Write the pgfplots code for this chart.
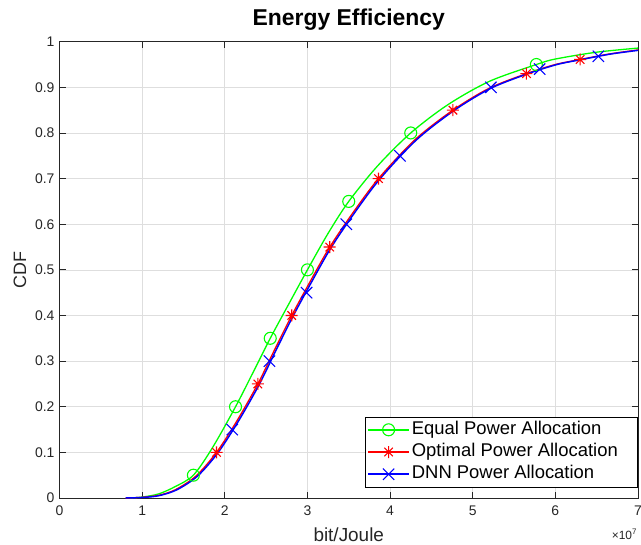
\documentclass[border=0pt]{standalone}
\usepackage{fontspec}
\setmainfont{Liberation Sans}
\usepackage{pgfplots}
\pgfplotsset{compat=1.18}
\usetikzlibrary{plotmarks}
\definecolor{axgray}{gray}{0.15}
\definecolor{gridgray}{gray}{0.87}
\pgfdeclareplotmark{mstar}{%
  \pgfpathmoveto{\pgfqpoint{-\pgfplotmarksize}{0pt}}\pgfpathlineto{\pgfqpoint{\pgfplotmarksize}{0pt}}%
  \pgfpathmoveto{\pgfqpoint{0pt}{-\pgfplotmarksize}}\pgfpathlineto{\pgfqpoint{0pt}{\pgfplotmarksize}}%
  \pgfpathmoveto{\pgfqpoint{-0.7071\pgfplotmarksize}{-0.7071\pgfplotmarksize}}\pgfpathlineto{\pgfqpoint{0.7071\pgfplotmarksize}{0.7071\pgfplotmarksize}}%
  \pgfpathmoveto{\pgfqpoint{-0.7071\pgfplotmarksize}{0.7071\pgfplotmarksize}}\pgfpathlineto{\pgfqpoint{0.7071\pgfplotmarksize}{-0.7071\pgfplotmarksize}}%
  \pgfusepathqstroke}
\begin{document}
\begin{tikzpicture}
\begin{axis}[
  name=ax,
  scale only axis,
  width=578.5bp, height=456.3bp,
  xmin=0, xmax=7, ymin=0, ymax=1,
  xtick={0,1,2,3,4,5,6,7},
  ytick={0,0.1,0.2,0.3,0.4,0.5,0.6,0.7,0.8,0.9,1},
  yticklabels={0,0.1,0.2,0.3,0.4,0.5,0.6,0.7,0.8,0.9,1},
  xticklabels={0,1,2,3,4,5,6,7},
  grid=major,
  major grid style={gridgray, line width=0.6bp},
  axis line style={axgray, line width=0.8bp},
  tick style={axgray, line width=0.8bp},
  tick align=inside,
  major tick length=6bp,
  tick label style={font=\fontsize{14}{16}\selectfont, text=axgray},
  xticklabel style={yshift=-4.5bp},
  yticklabel style={xshift=-1.5bp},
  title={Energy Efficiency},
  title style={font=\fontsize{23}{26}\selectfont\bfseries, at={(rel axis cs:0.5,1)}, anchor=base, yshift=10bp},
  xlabel={bit/Joule},
  xlabel style={font=\fontsize{19}{22}\selectfont, text=axgray, at={(rel axis cs:0.5,0)}, anchor=base, yshift=-43bp},
  ylabel={CDF},
  ylabel style={font=\fontsize{18}{21}\selectfont, text=axgray, at={(axis description cs:-0.0683,0.5)}, anchor=center},
  legend style={at={(rel axis cs:1,0)}, anchor=south east, xshift=-1bp, yshift=11bp,
    font=\fontsize{18.5}{21}\selectfont, draw=black, fill=white,
    inner xsep=2bp, inner ysep=1.5bp, row sep=0pt,
    nodes={text height=13bp, text depth=4bp, inner ysep=2.6bp, inner xsep=2bp}},
  legend cell align=left,
  legend image code/.code={%
    \draw[line width=1.6bp] (0bp,0bp) -- (41bp,0bp);
    \draw[only marks] plot coordinates {(20.5bp,0bp)};},
]
% line series
\addplot[green, line width=1.3bp, smooth, tension=0.5, forget plot] coordinates {
(0.85,0) (1.0,0.002) (1.2,0.009) (1.4,0.025) (1.62,0.05) (1.85,0.11) (2.13,0.2) (2.35,0.278)
(2.55,0.35) (2.78,0.427) (3.0,0.5) (3.25,0.58) (3.5,0.65) (3.85,0.728) (4.25,0.8) (4.7,0.862)
(5.2,0.913) (5.77,0.95) (6.0,0.962) (6.5,0.977) (7,0.986)};
\addplot[red, line width=1.3bp, smooth, tension=0.5, forget plot] coordinates {
(0.8,0) (1.0,0.0015) (1.2,0.006) (1.4,0.018) (1.65,0.048) (1.9,0.1) (2.15,0.17) (2.4,0.25)
(2.6,0.324) (2.81,0.4) (3.05,0.48) (3.27,0.55) (3.55,0.625) (3.86,0.7) (4.3,0.785) (4.76,0.85)
(5.2,0.898) (5.65,0.93) (6.0,0.95) (6.3,0.961) (6.65,0.973) (7,0.982)};
\addplot[blue, line width=1.5bp, smooth, tension=0.5, forget plot] coordinates {
(0.8,0) (1.0,0.0012) (1.2,0.005) (1.42,0.018) (1.67,0.048) (1.92,0.1) (2.17,0.17) (2.42,0.25)
(2.62,0.324) (2.83,0.4) (3.07,0.48) (3.29,0.55) (3.57,0.625) (3.88,0.7) (4.32,0.785) (4.78,0.85)
(5.22,0.898) (5.67,0.93) (6.02,0.95) (6.32,0.961) (6.67,0.973) (7,0.981)};
% marker series
\addplot[green, only marks, mark=o, mark size=6bp, line width=1.1bp, forget plot] coordinates {
(1.62,0.05) (2.13,0.2) (2.55,0.35) (3.0,0.5) (3.5,0.65) (4.25,0.8) (5.77,0.95)};
\addplot[red, only marks, mark=mstar, mark size=6bp, line width=1.1bp, forget plot] coordinates {
(1.9,0.1) (2.4,0.25) (2.81,0.4) (3.27,0.55) (3.86,0.7) (4.76,0.85) (5.65,0.93) (6.3,0.961)};
\addplot[blue, only marks, mark=x, mark size=8bp, line width=1.1bp, forget plot] coordinates {
(2.09,0.15) (2.54,0.3) (2.99,0.45) (3.47,0.6) (4.12,0.75) (5.22,0.9) (5.81,0.94) (6.52,0.968)};
% legend
\addlegendimage{green, mark=o, mark size=6bp, mark options={line width=1.1bp}}
\addlegendentry{Equal Power Allocation\makebox[15bp]{}}
\addlegendimage{red, mark=mstar, mark size=6bp, mark options={line width=1.1bp}}
\addlegendentry{Optimal Power Allocation\makebox[15bp]{}}
\addlegendimage{blue, mark=x, mark size=8bp, mark options={line width=1.1bp}}
\addlegendentry{DNN Power Allocation\makebox[15bp]{}}
\end{axis}
\node[anchor=base east, font=\fontsize{12}{14}\selectfont, text=axgray, xshift=2.5bp, yshift=-41bp]
  at (ax.south east) {×10\textsuperscript{7}};
\pgfresetboundingbox
\useasboundingbox ([xshift=-59.5bp,yshift=-46bp]ax.south west) rectangle ([xshift=3bp,yshift=41.7bp]ax.north east);
\end{tikzpicture}
\end{document}
